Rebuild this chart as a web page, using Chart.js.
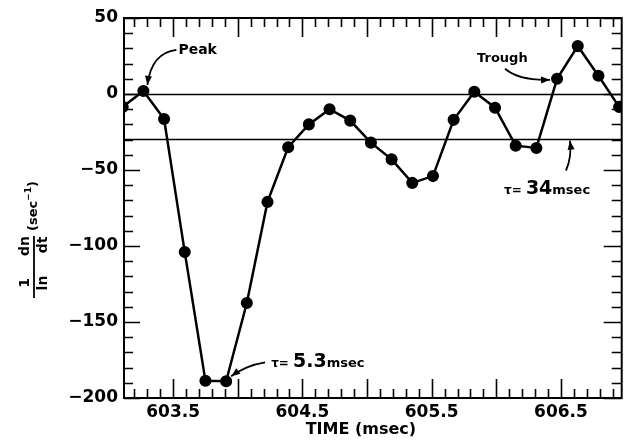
<!DOCTYPE html>
<html>
<head>
<meta charset="utf-8">
<script src="https://cdn.jsdelivr.net/npm/chart.js@4.4.1/dist/chart.umd.min.js"></script>
<style>
  html, body { margin: 0; padding: 0; background: #fff; }
  canvas { display: block; }
</style>
</head>
<body>
<canvas id="rateChart" width="629" height="442"></canvas>
<script>
// sample times (msec) and (1/n) dn/dt values (sec^-1)
const times = [603.11, 603.27, 603.43, 603.59, 603.75, 603.91, 604.07, 604.23, 604.39,
               604.55, 604.71, 604.87, 605.03, 605.19, 605.35, 605.51, 605.67, 605.83,
               605.99, 606.15, 606.31, 606.47, 606.63, 606.79, 606.95];
const rates = [-8.5, 2, -16.5, -104, -188.7, -189, -137.5, -71, -35,
               -20, -10, -17.5, -32, -43, -58.5, -54, -17, 1.5,
               -9, -34, -35.5, 10, 31.5, 12, -8.5];

const xLabelTicks = [603.5, 604.5, 605.5, 606.5];
const yLabelTicks = [50, 0, -50, -100, -150, -200];
const xRange = [603.12, 606.97];
const yRange = [-200, 50];
const xMinorStep = 0.1, xMajorStep = 0.5;
const yMinorStep = 10, yMajorStep = 50;

// zero line and tau = 34 msec line (1/34 msec = 29.4 sec^-1)
const refLines = [0, -29.4];

const FONT = '"DejaVu Sans", sans-serif';

function arrow(ctx, x0, y0, cx, cy, x1, y1) {
    ctx.beginPath();
    ctx.moveTo(x0, y0);
    ctx.quadraticCurveTo(cx, cy, x1, y1);
    ctx.stroke();
    const a = Math.atan2(y1 - cy, x1 - cx);
    const len = 9, half = 3.5;
    ctx.beginPath();
    ctx.moveTo(x1, y1);
    ctx.lineTo(x1 - len * Math.cos(a) + half * Math.sin(a), y1 - len * Math.sin(a) - half * Math.cos(a));
    ctx.lineTo(x1 - len * Math.cos(a) - half * Math.sin(a), y1 - len * Math.sin(a) + half * Math.cos(a));
    ctx.closePath();
    ctx.fill();
}

function tauLabel(ctx, x, y, num) {
    const parts = [['τ', 12], ['= ', 12], [num, 19], ['msec', 13]];
    ctx.textAlign = 'left';
    ctx.textBaseline = 'alphabetic';
    for (const [txt, size] of parts) {
        ctx.font = 'bold ' + size + 'px ' + FONT;
        ctx.fillText(txt, x, y);
        x += ctx.measureText(txt).width;
    }
}

const decorations = {
    id: 'decorations',
    beforeDatasetsDraw(chart) {
        const ctx = chart.ctx;
        const { left, right } = chart.chartArea;
        const ys = chart.scales.y;
        ctx.save();
        ctx.strokeStyle = '#000';
        ctx.lineWidth = 1.6;
        for (const v of refLines) {
            const py = Math.round(ys.getPixelForValue(v)) + 0.5;
            ctx.beginPath();
            ctx.moveTo(left, py);
            ctx.lineTo(right, py);
            ctx.stroke();
        }
        ctx.restore();
    },
    afterDraw(chart) {
        const ctx = chart.ctx;
        const { left, right, top, bottom } = chart.chartArea;
        const xs = chart.scales.x, ys = chart.scales.y;
        ctx.save();
        ctx.strokeStyle = '#000';
        ctx.fillStyle = '#000';

        // frame
        ctx.lineWidth = 2;
        ctx.strokeRect(left, top, right - left, bottom - top);

        // inward tick marks on all four sides
        ctx.lineWidth = 1.6;
        ctx.beginPath();
        const kx0 = Math.ceil(xRange[0] / xMinorStep), kx1 = Math.floor(xRange[1] / xMinorStep);
        for (let k = kx0; k <= kx1; k++) {
            const v = k * xMinorStep;
            const major = Math.abs(v / xMajorStep - Math.round(v / xMajorStep)) < 1e-6;
            const len = major ? 19 : 9;
            const px = Math.round(xs.getPixelForValue(v)) + 0.5;
            ctx.moveTo(px, bottom); ctx.lineTo(px, bottom - len);
            ctx.moveTo(px, top); ctx.lineTo(px, top + len);
        }
        for (let v = yRange[0]; v <= yRange[1]; v += yMinorStep) {
            const major = v % yMajorStep === 0;
            const py = Math.round(ys.getPixelForValue(v)) + 0.5;
            ctx.moveTo(left, py); ctx.lineTo(left + (major ? 16 : 9), py);
            ctx.moveTo(right, py); ctx.lineTo(right - (major ? 18 : 10), py);
        }
        ctx.stroke();

        // x title
        ctx.font = 'bold 16px ' + FONT;
        ctx.textAlign = 'center';
        ctx.textBaseline = 'middle';
        ctx.fillText('TIME (msec)', (left + right) / 2 - 12, bottom + 32);

        // y title: (1/ln)(dn/dt) (sec^-1), rotated
        ctx.save();
        ctx.translate(34, 258);
        ctx.rotate(-Math.PI / 2);
        ctx.font = 'bold 14px ' + FONT;
        ctx.fillText('1', -25, -9);
        ctx.fillText('ln', -25, 9);
        ctx.fillText('dn', 12, -9);
        ctx.fillText('dt', 13, 9);
        ctx.lineWidth = 1.8;
        ctx.beginPath();
        ctx.moveTo(-40, 0); ctx.lineTo(22, 0);
        ctx.stroke();
        ctx.textAlign = 'left';
        let u = 27;
        ctx.font = 'bold 13px ' + FONT;
        ctx.fillText('(sec', u, 0);
        u += ctx.measureText('(sec').width;
        ctx.font = 'bold 9px ' + FONT;
        ctx.fillText('−1', u, -5);
        u += ctx.measureText('−1').width;
        ctx.font = 'bold 13px ' + FONT;
        ctx.fillText(')', u, 0);
        ctx.restore();

        // annotations anchored on the data
        const P = i => ({ x: xs.getPixelForValue(times[i]), y: ys.getPixelForValue(rates[i]) });
        ctx.lineWidth = 1.8;

        const pk = P(1);
        ctx.font = 'bold 14px ' + FONT;
        ctx.textAlign = 'left';
        ctx.textBaseline = 'middle';
        ctx.fillText('Peak', pk.x + 35, pk.y - 41);
        arrow(ctx, pk.x + 33, pk.y - 41, pk.x + 8, pk.y - 38, pk.x + 4, pk.y - 6);

        const tr = P(21);
        ctx.font = 'bold 13px ' + FONT;
        ctx.fillText('Trough', tr.x - 80, tr.y - 20);
        arrow(ctx, tr.x - 52, tr.y - 10, tr.x - 38, tr.y + 2, tr.x - 7, tr.y + 1);

        const tauY = ys.getPixelForValue(refLines[1]);
        const tauX = xs.getPixelForValue(606.57);
        arrow(ctx, tauX - 4, tauY + 32, tauX + 2, tauY + 18, tauX, tauY + 2);
        tauLabel(ctx, tauX - 66, tauY + 55, '34');

        const mn = P(5);
        arrow(ctx, mn.x + 39, mn.y - 19, mn.x + 20, mn.y - 16, mn.x + 5, mn.y - 5);
        tauLabel(ctx, mn.x + 45, mn.y - 14, '5.3');

        ctx.restore();
    }
};

const ctx = document.getElementById('rateChart').getContext('2d');
new Chart(ctx, {
    type: 'line',
    data: {
        datasets: [{
            data: times.map((t, i) => ({ x: t, y: rates[i] })),
            borderColor: '#000',
            borderWidth: 2.5,
            pointRadius: 4.8,
            pointBackgroundColor: '#000',
            pointBorderColor: '#000',
            tension: 0
        }]
    },
    options: {
        responsive: false,
        animation: false,
        layout: { padding: { top: 18, right: 4, left: 0, bottom: 0 } },
        plugins: {
            legend: { display: false },
            tooltip: { enabled: false }
        },
        scales: {
            x: {
                type: 'linear',
                min: xRange[0],
                max: xRange[1],
                afterBuildTicks: s => { s.ticks = xLabelTicks.map(v => ({ value: v })); },
                afterFit: s => { s.height = 44; },
                grid: { display: false, drawTicks: false },
                border: { display: false },
                ticks: {
                    padding: 4,
                    color: '#000',
                    font: { family: FONT, size: 17, weight: 'bold' },
                    maxRotation: 0,
                    callback: v => v.toFixed(1)
                }
            },
            y: {
                min: yRange[0],
                max: yRange[1],
                afterBuildTicks: s => { s.ticks = yLabelTicks.map(v => ({ value: v })); },
                afterFit: s => { s.width = 124; },
                grid: { display: false, drawTicks: false },
                border: { display: false },
                ticks: {
                    padding: 6,
                    color: '#000',
                    font: { family: FONT, size: 17, weight: 'bold' },
                    callback: v => v < 0 ? '−' + Math.abs(v) : String(v)
                }
            }
        }
    },
    plugins: [decorations]
});
</script>
</body>
</html>
